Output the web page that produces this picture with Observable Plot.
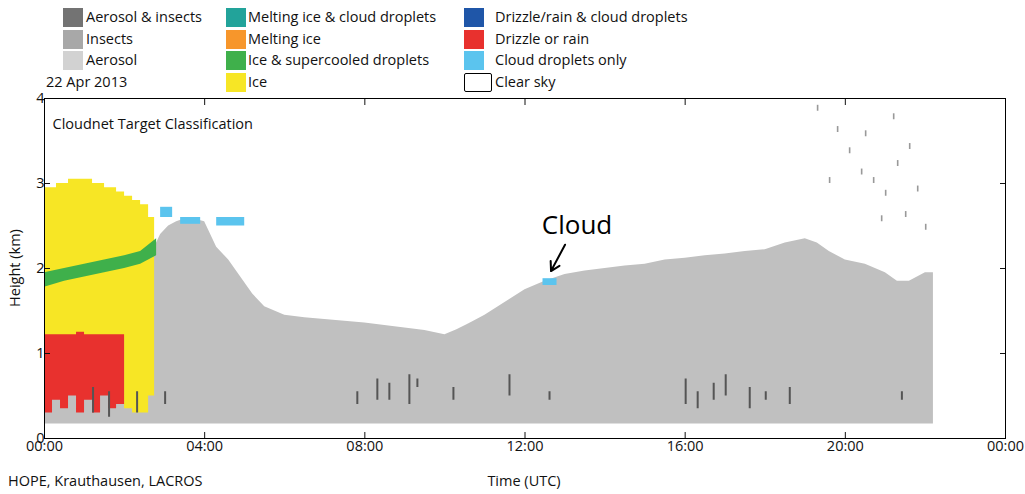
<!DOCTYPE html>
<html><head><meta charset="utf-8">
<script src="https://cdn.jsdelivr.net/npm/d3@7"></script>
<script src="https://cdn.jsdelivr.net/npm/@observablehq/plot@0.6"></script>
<style>
body{margin:0;background:#fff;font-family:"Open Sans",sans-serif;}
#wrap{position:relative;width:1025px;height:494px;}
#legend{position:absolute;left:0;top:0;width:1025px;height:88px;font-size:14.5px;color:#111;}
.it{position:absolute;height:20px;line-height:20px;}
.sw{position:absolute;width:20px;height:19px;}
#chart{position:absolute;left:0;top:88px;}
</style></head><body>
<div id="wrap"><div id="legend"></div><div id="chart"></div></div>
<script>
// ---- data ----
const classes = ["Aerosol & insects","Insects","Aerosol","Melting ice & cloud droplets","Melting ice","Ice & supercooled droplets","Ice","Drizzle/rain & cloud droplets","Drizzle or rain","Cloud droplets only","Clear sky"];
const colors  = ["#737373","#a8a8a8","#d2d2d2","#22a39a","#f7962b","#3fb04b","#f7e625","#1f56a8","#e8312e","#5bc4ee","#ffffff"];
// aerosol (gray) top height, km, per time (h)
const aerT   = [0,0.5,1,1.5,2,2.5,2.7,2.9,3.1,3.3,3.6,4.0,4.3,4.6,4.9,5.2,5.5,6,6.5,7,7.5,8,8.5,9,9.5,10,10.3,10.6,11,11.5,12,12.5,13,13.5,14,14.5,15,15.5,16,16.5,17,17.5,18,18.5,19,19.3,19.6,20,20.5,21,21.3,21.6,22,22.2];
const aerTop = [1.3,1.3,1.3,1.3,1.5,1.9,2.2,2.4,2.5,2.55,2.6,2.55,2.25,2.1,1.9,1.7,1.55,1.45,1.42,1.4,1.38,1.36,1.33,1.3,1.27,1.22,1.28,1.35,1.45,1.6,1.75,1.85,1.93,1.97,2.0,2.03,2.05,2.1,2.12,2.15,2.17,2.2,2.22,2.3,2.35,2.3,2.2,2.1,2.05,1.95,1.85,1.85,1.95,1.95];
const aerBase = 0.17;
// ice (yellow)
const iceT    = [0,0.3,0.6,0.9,1.2,1.5,1.8,2.0,2.2,2.4,2.6,2.75];
const iceBase = [1.2,1.2,1.2,1.2,1.2,1.2,1.2,0.35,0.3,0.3,0.5,0.9];
const iceTop  = [2.95,3.0,3.05,3.05,3.0,2.95,2.9,2.85,2.8,2.75,2.6,2.3];
// ice & supercooled droplets (green)
const grnT    = [0,0.5,1,1.5,2,2.4,2.8];
const grnBase = [1.78,1.85,1.9,1.95,2.0,2.05,2.15];
const grnTop  = [1.95,2.0,2.05,2.1,2.15,2.2,2.35];
// drizzle or rain (red)
const rainT    = [0,0.2,0.4,0.6,0.8,1.0,1.2,1.4,1.6,1.8,2.0];
const rainBase = [0.3,0.45,0.35,0.5,0.3,0.45,0.3,0.5,0.35,0.4,0.6];
const rainTop  = [1.22,1.22,1.22,1.22,1.25,1.22,1.22,1.22,1.22,1.22,1.22];
// cloud droplets (cyan) pieces
const cldX1 = [2.9,3.4,4.3,12.45];
const cldX2 = [3.2,3.9,5.0,12.8];
const cldY1 = [2.6,2.52,2.5,1.8];
const cldY2 = [2.72,2.6,2.6,1.88];
// aerosol & insects streaks
const insX = [1.2,1.6,2.3,3.0,7.8,8.3,8.6,9.1,9.3,10.2,11.6,12.6,16.0,16.3,16.7,17.0,17.6,18.0,18.6,21.4];
const insY1= [0.3,0.25,0.3,0.4,0.4,0.45,0.45,0.4,0.6,0.45,0.5,0.45,0.4,0.35,0.45,0.5,0.35,0.45,0.4,0.45];
const insY2= [0.6,0.55,0.55,0.55,0.55,0.7,0.65,0.75,0.7,0.6,0.75,0.55,0.7,0.55,0.65,0.75,0.6,0.55,0.6,0.55];
// insects scattered aloft
const bugX = [19.3,19.8,20.1,20.4,20.7,21.0,21.3,21.5,21.8,22.0,20.5,21.2,19.6,20.9,21.6];
const bugY = [3.85,3.6,3.35,3.1,3.0,2.85,3.2,2.6,2.9,2.45,3.55,3.75,3.0,2.55,3.4];
const xTicks = [0,4,8,12,16,20,24];
const xTickLabels = ["00:00","04:00","08:00","12:00","16:00","20:00","00:00"];
const yTicks = [0,1,2,3,4];
const annText = [{t:13.3,h:2.5,s:"Cloud"}];
const annArrow = [{t1:13.0,h1:2.28,t2:12.65,h2:1.97}];

// ---- legend ----
const L = document.getElementById("legend");
const cols = [[0,1,2],[3,4,5,6],[7,8,9,10]];
const colX = [[63,86],[226,248],[464,495]];
cols.forEach((c,ci)=>c.forEach((k,ri)=>{
  const y = 8 + ri*21.5;
  const s=document.createElement("div");s.className="sw";
  s.style.left=colX[ci][0]+"px";s.style.top=y+"px";s.style.background=colors[k];
  if(k===10){s.style.border="1.3px solid #000";s.style.width="26px";s.style.height="17px";s.style.borderRadius="2px";}
  L.appendChild(s);
  const t=document.createElement("div");t.className="it";t.textContent=classes[k];
  t.style.left=colX[ci][1]+"px";t.style.top=(y-1)+"px";L.appendChild(t);
}));
const d=document.createElement("div");d.className="it";d.textContent="22 Apr 2013";d.style.left="46px";d.style.top="72px";L.appendChild(d);

const mk=(T,B,Tp)=>T.map((t,i)=>({t,b:B[i],h:Tp[i]}));
const aer = mk(aerT, aerT.map(()=>aerBase), aerTop);
const ice = mk(iceT, iceBase, iceTop);
const grn = mk(grnT, grnBase, grnTop);
const rain= mk(rainT, rainBase, rainTop);
const cld = cldX1.map((x,i)=>({x1:x,x2:cldX2[i],y1:cldY1[i],y2:cldY2[i]}));
const ins = insX.map((x,i)=>({x1:x,x2:x+0.05,y1:insY1[i],y2:insY2[i]}));
const bug = bugX.map((x,i)=>({x1:x,x2:x+0.04,y1:bugY[i],y2:bugY[i]+0.07}));

const plot = Plot.plot({
  width:1025,height:406,marginTop:10,marginBottom:56,marginLeft:44,marginRight:20,
  style:{fontFamily:"Open Sans, sans-serif",fontSize:"14.5px",color:"#111"},
  x:{domain:[0,24],label:null},
  y:{domain:[0,4],label:null},
  marks:[
    Plot.areaY(aer,{x:"t",y1:"b",y2:"h",fill:"#c0c0c0",curve:"linear"}),
    Plot.areaY(ice,{x:"t",y1:"b",y2:"h",fill:colors[6],curve:"step-after"}),
    Plot.areaY(rain,{x:"t",y1:"b",y2:"h",fill:colors[8],curve:"step-after"}),
    Plot.areaY(grn,{x:"t",y1:"b",y2:"h",fill:colors[5],curve:"linear"}),
    Plot.rect(cld,{x1:"x1",x2:"x2",y1:"y1",y2:"y2",fill:colors[9]}),
    Plot.rect(ins,{x1:"x1",x2:"x2",y1:"y1",y2:"y2",fill:"#555"}),
    Plot.rect(bug,{x1:"x1",x2:"x2",y1:"y1",y2:"y2",fill:"#999"}),
    Plot.text(annText,{x:"t",y:"h",text:"s",fontSize:26,fill:"#000"}),
    Plot.arrow(annArrow,{x1:"t1",y1:"h1",x2:"t2",y2:"h2",stroke:"#000",strokeWidth:2,headLength:10}),
    Plot.text(["Cloudnet Target Classification"],{frameAnchor:"top-left",textAnchor:"start",dx:8,dy:20,fontSize:14.5,fill:"#111"}),
    Plot.axisX({ticks:xTicks,tickFormat:(d,i)=>xTickLabels[i],tickSize:-6,tickPadding:8,label:null}),
    Plot.axisY({ticks:yTicks,tickFormat:d=>String(d),tickSize:-6,tickPadding:6,label:null}),
    Plot.axisX({anchor:"top",ticks:xTicks,tickSize:-6,tickFormat:()=>"",label:null}),
    Plot.axisY({anchor:"right",ticks:yTicks,tickSize:-6,tickFormat:()=>"",label:null}),
    Plot.frame({stroke:"#000"})
  ]
});
document.getElementById("chart").appendChild(plot);
const svg=d3.select(plot);
svg.append("text").attr("x",524).attr("y",398).attr("text-anchor","middle").attr("font-size",14.5).text("Time (UTC)");
svg.append("text").attr("x",8).attr("y",398).attr("text-anchor","start").attr("font-size",14.5).text("HOPE, Krauthausen, LACROS");
svg.append("text").attr("transform","translate(20,180) rotate(-90)").attr("text-anchor","middle").attr("font-size",14.5).text("Height (km)");
</script></body></html>
